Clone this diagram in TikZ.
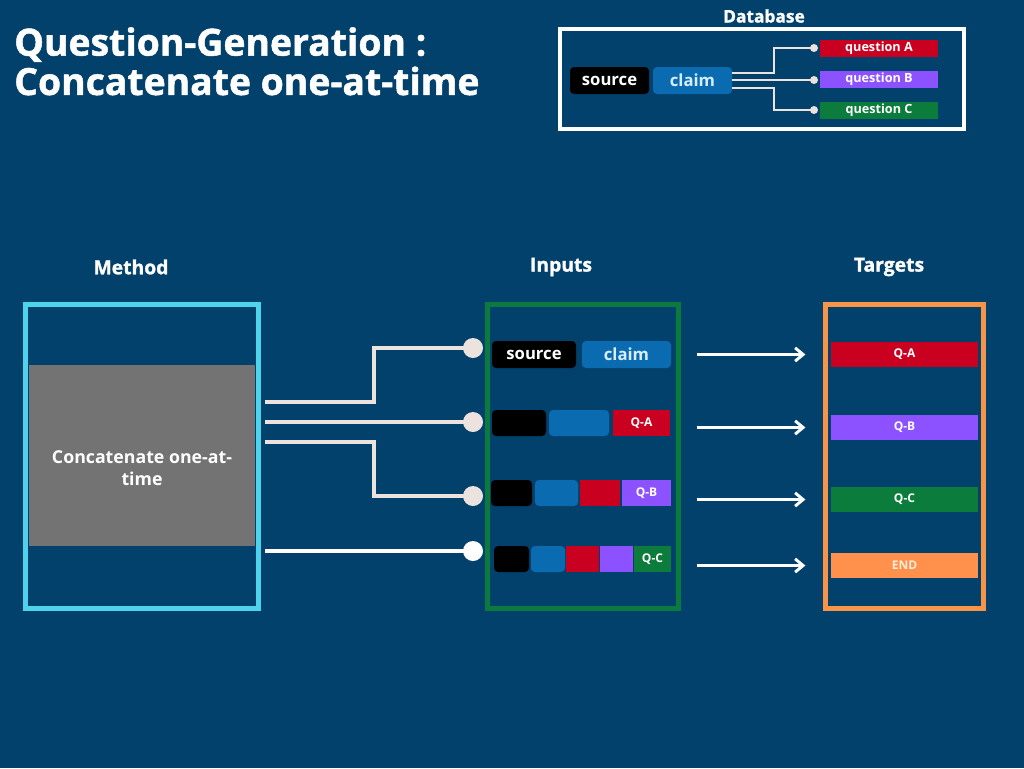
\documentclass[tikz,border=0pt]{standalone}
\usepackage{fontspec}
\setmainfont{Open Sans}
\newfontfamily\heavyfont{Open Sans}[BoldFeatures={FakeBold=1.3}]
\usetikzlibrary{fit,arrows.meta,calc}
\definecolor{bg}{HTML}{02416C}
\definecolor{qred}{HTML}{C9001F}
\definecolor{qpurple}{HTML}{8C52FF}
\definecolor{qgreen}{HTML}{0C7C3C}
\definecolor{cblue}{HTML}{0A6BB0}
\definecolor{cyanb}{HTML}{4FD3EC}
\definecolor{greenb}{HTML}{0B7A3E}
\definecolor{orangeb}{HTML}{F79447}
\definecolor{endor}{HTML}{FF914D}
\definecolor{wire}{HTML}{ECE2DE}
\definecolor{claimtxt}{HTML}{D6EEFF}
\tikzset{
  x=0.75pt,y=-0.75pt,
  blk/.style={fit={#1}, inner sep=0pt, rounded corners=3pt, fill=black},
  clm/.style={fit={#1}, inner sep=0pt, rounded corners=3pt, fill=cblue},
  bar/.style 2 args={fit={#2}, inner sep=0pt, fill=#1},
  frame/.style 2 args={fit={#2}, inner sep=0pt, draw=#1, line width=3.75pt},
  big/.style={text=white, font=\bfseries\fontsize{12.5}{14}\selectfont},
  bigc/.style={text=claimtxt, font=\bfseries\fontsize{12.5}{14}\selectfont},
  sml/.style={text=white, font=\bfseries\fontsize{9}{10}\selectfont},
  dbq/.style={text=white, font=\bfseries\fontsize{9.5}{10}\selectfont},
  wirel/.style={draw=wire, line width=3pt},
  dot/.style={circle, fill=wire, inner sep=0pt, minimum size=15pt},
  sdot/.style={circle, fill=wire, inner sep=0pt, minimum size=6pt},
  arr/.style={draw=white, line width=2.2pt, -{Straight Barb[length=6pt,width=10pt,line width=2.2pt]}},
  hdr/.style={text=white, font=\heavyfont\bfseries\fontsize{14.5}{16}\selectfont},
}
\begin{document}
\begin{tikzpicture}
\fill[bg] (0,0) rectangle (1024,768);
\useasboundingbox (0,0) rectangle (1024,768);

% title
\node[anchor=north west, text=white, align=left, font=\heavyfont\bfseries\fontsize{28}{29.5}\selectfont, inner sep=0pt] (title) at (14,27) {Question-Generation :\\Concatenate one-at-time};

% database
\node[hdr, font=\heavyfont\bfseries\fontsize{13}{14}\selectfont] (dbl) at (764,16) {Database};
\node[fit={(560,29) (964,129)}, inner sep=0pt, draw=white, line width=2.4pt] (db) {};
\node[blk={(570,67) (649,94)}, label={[big]center:source}] (dsrc) {};
\node[clm={(653,67) (732,94)}, label={[bigc]center:claim}] (dclm) {};
\node[bar={qred}{(820,40) (938,57)}, label={[dbq]center:question A}] (dqa) {};
\node[bar={qpurple}{(820,71) (938,88)}, label={[dbq]center:question B}] (dqb) {};
\node[bar={qgreen}{(820,102) (938,119)}, label={[dbq]center:question C}] (dqc) {};
\node[sdot] (da) at (814,48) {};
\node[sdot] (dbb) at (814,80) {};
\node[sdot] (dc) at (814,110) {};
\draw[draw=wire, line width=1.5pt] ($(dclm.east)+(0,-8)$) -- ++(42,0) |- (da.center);
\draw[draw=wire, line width=1.5pt] ($(dclm.east)+(0,-0.5)$) -- (dbb.center);
\draw[draw=wire, line width=1.5pt] ($(dclm.east)+(0,7)$) -- ++(42,0) |- (dc.center);

% headers
\node[hdr] (hm) at (131,267) {Method};
\node[hdr] (hi) at (561,267) {Inputs};
\node[hdr] (ht) at (889,267) {Targets};

% method box
\node[frame={cyanb}{(25,304) (258,608)}] (mbox) {};
\node[fit={(29,365) (255,546)}, inner sep=0pt, fill=black!55,
  label={[text=white, align=center, yshift=-9.5pt, font=\bfseries\fontsize{13.3}{16.5}\selectfont]center:Concatenate one-at-\\time}] (cat) {};

% inputs box
\node[frame={greenb}{(487,304) (678,608)}] (ibox) {};
\node[blk={(492,341) (576,368)}, label={[big]center:source}] (s1) {};
\node[clm={(582,341) (671,368)}, label={[bigc]center:claim}] (c1) {};
\node[blk={(492,410) (546,436)}] (s2) {};
\node[clm={(549,410) (609,436)}] (c2) {};
\node[bar={qred}{(613,410) (670,436)}, label={[sml]center:Q-A}] (a2) {};
\node[blk={(491,480) (532,506)}] (s3) {};
\node[clm={(535,480) (578,506)}] (c3) {};
\node[bar={qred}{(580,480) (620,506)}] (a3) {};
\node[bar={qpurple}{(622,480) (671,506)}, label={[sml]center:Q-B}] (b3) {};
\node[blk={(494,546) (529,572)}] (s4) {};
\node[clm={(531,546) (565,572)}] (c4) {};
\node[bar={qred}{(566,546) (599,572)}] (a4) {};
\node[bar={qpurple}{(600,546) (633,572)}] (b4) {};
\node[bar={qgreen}{(634,546) (671,572)}, label={[sml]center:Q-C}] (cc4) {};

% targets box
\node[frame={orangeb}{(825,304) (983,608)}] (tbox) {};
\node[bar={qred}{(831,342) (978,367)}, label={[sml]center:Q-A}] (tA) {};
\node[bar={qpurple}{(831,415) (978,440)}, label={[sml]center:Q-B}] (tB) {};
\node[bar={qgreen}{(831,487) (978,512)}, label={[sml]center:Q-C}] (tC) {};
\node[bar={endor}{(831,553) (978,578)}, label={[sml, text=white!85!orange]center:END}] (tE) {};

% connectors method -> inputs
\node[dot] (d1) at (473,348) {};
\node[dot] (d2) at (473,422) {};
\node[dot] (d3) at (473,496) {};
\node[dot, fill=white] (d4) at (473,551) {};
\coordinate (m1) at (265,402);
\coordinate (m2) at (265,422);
\coordinate (m3) at (265,442);
\coordinate (m4) at (265,551);
\draw[wirel] (m1) -- (374,402) |- (d1.center);
\draw[wirel] (m2) -- (d2.center);
\draw[wirel] (m3) -- (374,442) |- (d3.center);
\draw[wirel, draw=white, line width=3.6pt] (m4) -- (d4.center);

% arrows inputs -> targets
\draw[arr, shorten <=12pt, shorten >=19pt] (ibox.east |- tA.west) -- (tA.west);
\draw[arr, shorten <=12pt, shorten >=19pt] (ibox.east |- tB.west) -- (tB.west);
\draw[arr, shorten <=12pt, shorten >=19pt] (ibox.east |- tC.west) -- (tC.west);
\draw[arr, shorten <=12pt, shorten >=19pt] (ibox.east |- tE.west) -- (tE.west);
\end{tikzpicture}
\end{document}
